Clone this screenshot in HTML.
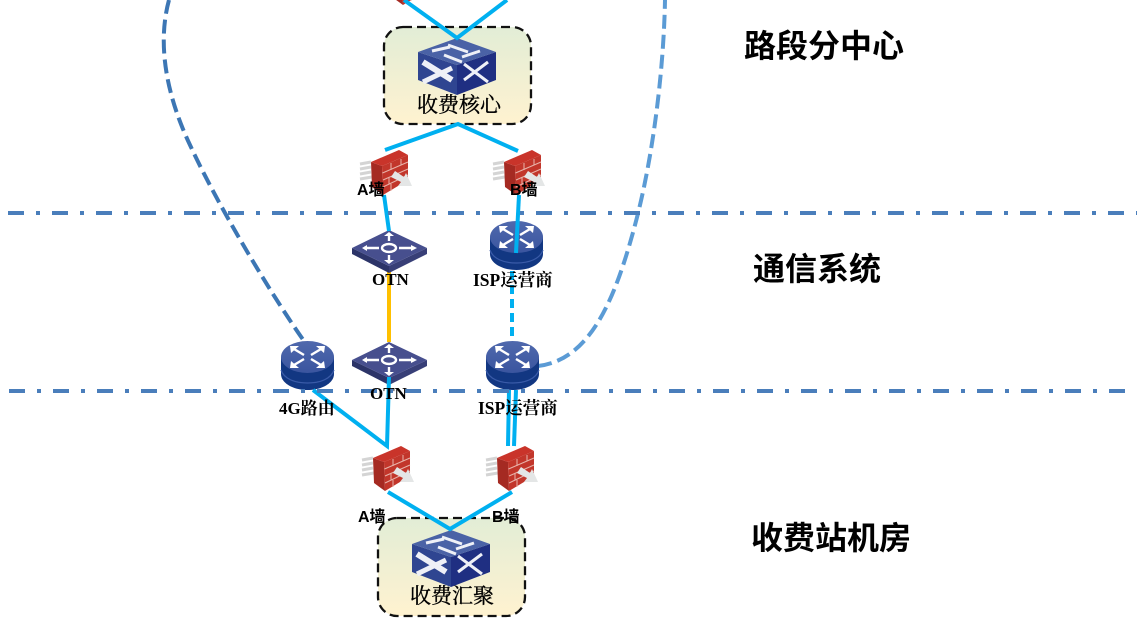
<!DOCTYPE html>
<html><head><meta charset="utf-8"><style>
html,body{margin:0;padding:0;background:#fff;width:1137px;height:640px;overflow:hidden}
svg{display:block}
.h{font-family:"Liberation Sans","Noto Sans CJK SC",sans-serif;font-weight:700;font-size:32px;fill:#000}
.b{font-family:"Liberation Serif","Noto Serif CJK SC",serif;font-size:21px;fill:#000;stroke:#000;stroke-width:.35px}
.l{font-family:"Liberation Serif","Noto Serif CJK SC",serif;font-weight:700;font-size:17px;fill:#000}
.i{font-size:17.5px}
.w{font-family:"Liberation Sans","Noto Sans CJK SC",sans-serif;font-weight:700;font-size:16px;fill:#000}
</style></head><body>
<svg width="1137" height="640" viewBox="0 0 1137 640" xmlns="http://www.w3.org/2000/svg">
<defs>
<linearGradient id="bx" x1="0" y1="0" x2="0" y2="1"><stop offset="0" stop-color="#e2edd6"/><stop offset="1" stop-color="#fff2d0"/></linearGradient>
<linearGradient id="rtg" x1="0" y1="0" x2="0" y2="1"><stop offset="0" stop-color="#5069ad"/><stop offset="1" stop-color="#3a559f"/></linearGradient>
<g id="fw">
<g fill="none" stroke="#d4d4d4" stroke-width="3"><path d="M-11 14 L0 12M-11 19 L0 17M-11 24 L0 22M-11 29 L1 27"/></g>
<path d="M0 12 L11 16 L12 45 L1 37Z" fill="#a52a22"/>
<path d="M0 12 L28 0 L37 5 L11 16Z" fill="#c9342a"/>
<path d="M11 16 L37 5 L37 30 L12 45Z" fill="#c2362b"/>
<g stroke="#e8b4ab" stroke-width="1" fill="none"><path d="M11.500 23 L37 12M12 30 L37 19M12 37 L37 25M20 13 L20 20M30 9 L30 15M18 27 L18 34M27 23 L27 30M20 34 L20 41M31 29 L31 35"/></g>
<path d="M20 27 L24 21 L33 27 L35 23 L41 36 L27 36 L30 32Z" fill="#e4e6e6"/>
</g>
<g id="sw">
<path d="M0 14 L39 27 L39 57 L0 42Z" fill="#2f4591"/>
<path d="M39 27 L78 14 L78 42 L39 57Z" fill="#1f2f82"/>
<path d="M0 14 L39 0 L78 14 L39 27Z" fill="#4a62a6"/>
<g fill="none" stroke="#eef0f7" stroke-width="3"><path d="M14 13 L32 9M30 7 L50 14M26 17 L44 24M44 19 L62 13"/><path d="M5 24 L34 42" stroke-width="6"/><path d="M5 44 L34 30" stroke-width="5"/><path d="M46 42 L70 24M46 26 L70 44"/></g>
</g>
<g id="otn">
<path d="M0 18 L37 36 L37 43 L0 24Z" fill="#2c3468"/>
<path d="M37 36 L75 18 L75 24 L37 43Z" fill="#383f77"/>
<path d="M0 18 L37 0 L75 18 L37 36Z" fill="#474f8e"/>
<g stroke="#fff" stroke-width="2.400" fill="none"><ellipse cx="37" cy="18" rx="7" ry="4"/><path d="M37 3 L37 11M37 25 L37 33M12 18 L27 18M47 18 L62 18"/></g>
<g fill="#fff"><path d="M32 6 L37 2 L42 6Z M32 30 L37 34 L42 30Z M15 15 L10 18 L15 21Z M59 15 L65 18 L59 21Z"/></g>
</g>
<g id="rt">
<path d="M0 16 L0 33 C0 42 12 49 26.500 49 C41 49 53 42 53 33 L53 16Z" fill="#123782"/>
<path d="M0 29 C3 38 14 42 26.500 42 C39 42 50 38 53 29" fill="none" stroke="#3a5ba8" stroke-width="1.200"/>
<ellipse cx="26.500" cy="16" rx="26.500" ry="16" fill="url(#rtg)"/>
<g stroke="#fff" stroke-width="2.400" fill="none"><path d="M13 8 L23 14M40 8 L30 14M13 24 L23 18M40 24 L30 18"/></g>
<g fill="#fff"><path d="M9 5 L18 5 L10 12Z M44 5 L35 5 L43 12Z M9 27 L18 27 L10 20Z M44 27 L35 27 L43 20Z"/></g>
</g>
</defs>

<path d="M169 0 C158 40 164 90 190 145 C220 210 275 300 304 341" fill="none" stroke="#3c76b4" stroke-width="4" stroke-dasharray="14 6"/>
<path d="M538 366 C590 360 615 300 635 225 C655 150 664 60 665 0" fill="none" stroke="#5b9bd5" stroke-width="4" stroke-dasharray="14 6"/>

<rect x="384" y="27" width="147" height="97" rx="19" fill="url(#bx)" stroke="#111" stroke-width="2.300" stroke-dasharray="9 5"/>
<rect x="378" y="518" width="147" height="98" rx="19" fill="url(#bx)" stroke="#111" stroke-width="2.300" stroke-dasharray="9 5"/>

<use href="#fw" x="391" y="-40"/>
<use href="#fw" x="371" y="150"/>
<use href="#fw" x="504" y="150"/>
<use href="#fw" x="373" y="446"/>
<use href="#fw" x="497" y="446"/>
<use href="#sw" x="418" y="38"/>
<use href="#sw" x="412" y="530"/>
<path d="M389 270 L389 342" stroke="#ffc000" stroke-width="4" fill="none"/>
<use href="#otn" x="352" y="230"/>
<use href="#otn" x="352" y="342"/>
<use href="#rt" x="490" y="221"/>
<use href="#rt" x="486" y="341"/>
<use href="#rt" x="281" y="341"/>

<g fill="none" stroke="#00b0f0" stroke-width="4">
<path d="M404 0 L457 38 L507 0"/>
<path d="M385 150 L458 124 L518 151"/>
<path d="M384 195 L389 231"/>
<path d="M519 195 L516 253"/>
<path d="M512 271 L512 341" stroke-dasharray="9 5"/>
<path d="M389 377 L387 446 L313 390"/>
<path d="M509 390 L508 446"/>
<path d="M516 390 L514 446"/>
<path d="M388 492 L450 529 L512 492"/>
</g>

<path d="M8 213 L1137 213" stroke="#4a7ebb" stroke-width="4" stroke-dasharray="16 12 4 12" fill="none"/>
<path d="M9 391 L1125 391" stroke="#4a7ebb" stroke-width="4" stroke-dasharray="16 12 4 12" fill="none"/>

<text class="h" x="744" y="57">路段分中心</text>
<text class="h" x="753" y="280">通信系统</text>
<text class="h" x="751" y="549">收费站机房</text>
<text class="b" x="417" y="112">收费核心</text>
<text class="b" x="410" y="603">收费汇聚</text>
<text class="w" x="357" y="195">A墙</text>
<text class="w" x="510" y="195">B墙</text>
<text class="w" x="358" y="522">A墙</text>
<text class="w" x="492" y="522">B墙</text>
<text class="l" x="372" y="285">OTN</text>
<text class="l" x="370" y="399">OTN</text>
<text class="l i" x="473" y="286">ISP运营商</text>
<text class="l i" x="478" y="414">ISP运营商</text>
<text class="l" x="279" y="414">4G路由</text>
</svg>
</body></html>
